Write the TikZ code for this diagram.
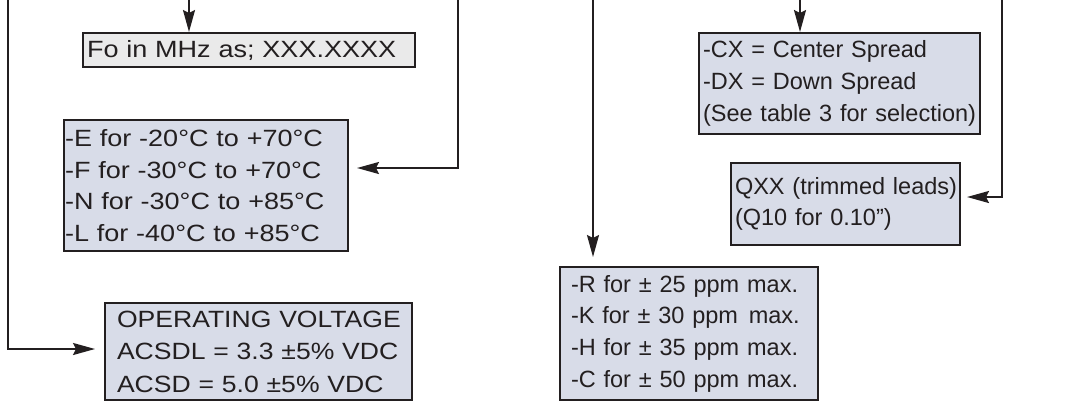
\documentclass[tikz,border=0pt]{standalone}
\usepackage{fontspec}
\setmainfont{Liberation Sans}
\newfontfamily\widefont{Liberation Sans}[FakeStretch=1.15]
\newfontfamily\voltfont{Liberation Sans}[FakeStretch=1.13]
\usetikzlibrary{arrows.meta}
\definecolor{ink}{HTML}{231F20}
\definecolor{boxfill}{HTML}{D8DCE8}
\definecolor{grayfill}{HTML}{EAEAEA}
\newcommand\Lin[1]{\mbox{#1}}
\tikzset{
  specbox/.style={draw=ink, line width=2.2pt, fill=boxfill, text=ink,
    font=\fontsize{23.5}{31.7}\selectfont, align=left, inner xsep=0pt, inner ysep=0pt},
  widebox/.style={specbox, font=\widefont\fontsize{23.5}{31.7}\selectfont},
  voltbox/.style={specbox, font=\voltfont\fontsize{23.5}{32.5}\selectfont},
  conn/.style={draw=ink, line width=2pt, line join=miter,
    -{Stealth[length=22pt,width=12pt,inset=3pt]}},
}
\begin{document}
\begin{tikzpicture}[x=1pt,y=-1pt]
\useasboundingbox (0,0) rectangle (1070,402);
% boxes
\node[widebox, fill=grayfill, minimum width=331.8pt, minimum height=33.8pt, text width=324pt]
  (fo) at (249,50) {\Lin{Fo in MHz as; XXX.XXXX}};
\node[widebox, minimum width=283.8pt, minimum height=130.8pt, text width=282pt]
  (temp) at (206,185.5) {\Lin{-E for -20°C to +70°C}\\\Lin{-F for -30°C to +70°C}\\\Lin{-N for -30°C to +85°C}\\\Lin{-L for -40°C to +85°C}};
\node[voltbox, minimum width=306.8pt, minimum height=96.8pt, text width=283pt]
  (volt) at (258.5,351.5) {\Lin{OPERATING VOLTAGE}\\\Lin{ACSDL = 3.3 ±5\% VDC}\\\Lin{ACSD = 5.0 ±5\% VDC}};
\node[specbox, minimum width=280.8pt, minimum height=100.8pt, text width=273pt]
  (spread) at (839.5,83.5) {\Lin{-CX = Center Spread}\\\Lin{-DX = Down Spread}\\\Lin{(See table 3 for selection)}};
\node[specbox, minimum width=228.8pt, minimum height=81.8pt, text width=221pt]
  (qxx) at (845.5,204) {\Lin{QXX (trimmed leads)}\\\Lin{(Q10 for 0.10”)}};
\node[specbox, minimum width=257.8pt, minimum height=132.8pt, text width=236pt]
  (stab) at (689,333.5) {\Lin{-R for ± 25 ppm max.}\\\Lin{-K for ± 30 ppm\hspace{3pt} max.}\\\Lin{-H for ± 35 ppm max.}\\\Lin{-C for ± 50 ppm max.}};
% connector start points
\coordinate (s1) at (189,0);
\coordinate (s2) at (458,0);
\coordinate (b2) at (458,168);
\coordinate (s3) at (8,0);
\coordinate (b3) at (8,349);
\coordinate (s4) at (593,0);
\coordinate (s5) at (800,0);
\coordinate (s6) at (1002,0);
\coordinate (b6) at (1002,197);
% connectors
\draw[conn] (s1) -- (s1 |- fo.north);
\draw[conn, shorten >=8pt] (s2) -- (b2) -- (b2 -| temp.east);
\draw[conn, shorten >=9pt] (s3) -- (b3) -- (b3 -| volt.west);
\draw[conn, shorten >=9pt] (s4) -- (s4 |- stab.north);
\draw[conn] (s5) -- (s5 |- spread.north);
\draw[conn, shorten >=6pt] (s6) -- (b6) -- (b6 -| qxx.east);
\end{tikzpicture}
\end{document}
